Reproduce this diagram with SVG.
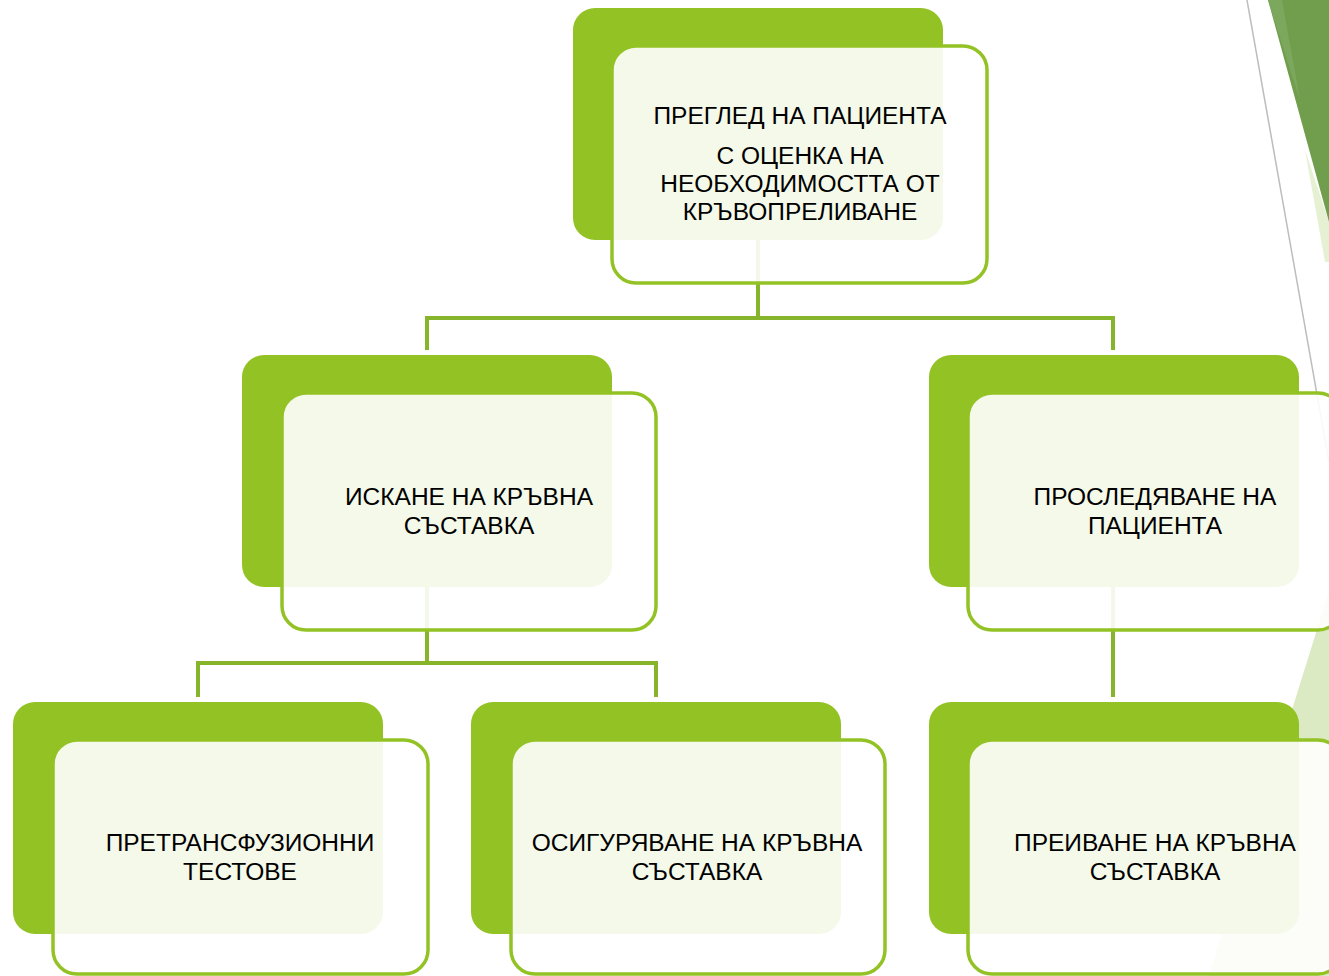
<svg xmlns="http://www.w3.org/2000/svg" width="1329" height="976" viewBox="0 0 1329 976">
<style>
.back{fill:#93C225}
.front{fill:#FFFFFF;fill-opacity:0.9;stroke:#93C225;stroke-width:3.5}
.conn{fill:none;stroke:#86B52B;stroke-width:4}
.t{font-family:"Liberation Sans","DejaVu Sans",sans-serif;font-size:24.5px;fill:#000;text-anchor:middle}
</style>
<rect width="1329" height="976" fill="#FFFFFF"/>
<g id="decor">
<polygon points="1329,591 1329,976 1209,976" fill="#DCEAC4"/>
<polygon points="1305,150 1329,222 1329,262 1325,262" fill="#E6F0D3"/>
<polygon points="1268,0 1329,0 1329,222" fill="#719E4C"/>
<polygon points="1268,0 1282,0 1300,100" fill="#7CA85E"/>
<line x1="1247" y1="0" x2="1329" y2="462" stroke="#BDBDBD" stroke-width="1.5"/>
</g>
<g id="connectors">
<path class="conn" d="M758,240 V318 M427,350 V318 H1113 V350"/>
<path class="conn" d="M427,587 V663 M198,697 V663 H656 V697"/>
<path class="conn" d="M1113,587 V697"/>
</g>
<g id="n1">
<rect class="back" x="573" y="8" width="370" height="232" rx="22"/>
<rect class="front" x="612" y="46" width="375" height="237" rx="24"/>
<text class="t" x="800" y="124">ПРЕГЛЕД НА ПАЦИЕНТА</text>
<text class="t" x="800" y="164">С ОЦЕНКА НА</text>
<text class="t" x="800" y="192">НЕОБХОДИМОСТТА ОТ</text>
<text class="t" x="800" y="220">КРЪВОПРЕЛИВАНЕ</text>
</g>
<g id="n2">
<rect class="back" x="242" y="355" width="370" height="232" rx="22"/>
<rect class="front" x="282" y="393" width="374" height="237" rx="24"/>
<text class="t" x="469" y="505">ИСКАНЕ НА КРЪВНА</text>
<text class="t" x="469" y="534">СЪСТАВКА</text>
</g>
<g id="n3">
<rect class="back" x="929" y="355" width="370" height="232" rx="22"/>
<rect class="front" x="968" y="393" width="374" height="237" rx="24"/>
<text class="t" x="1155" y="505">ПРОСЛЕДЯВАНЕ НА</text>
<text class="t" x="1155" y="534">ПАЦИЕНТА</text>
</g>
<g id="n4">
<rect class="back" x="13" y="702" width="370" height="232" rx="22"/>
<rect class="front" x="53" y="740" width="375" height="234" rx="24"/>
<text class="t" x="240" y="851">ПРЕТРАНСФУЗИОННИ</text>
<text class="t" x="240" y="880">ТЕСТОВЕ</text>
</g>
<g id="n5">
<rect class="back" x="471" y="702" width="370" height="232" rx="22"/>
<rect class="front" x="511" y="740" width="374" height="234" rx="24"/>
<text class="t" x="697" y="851">ОСИГУРЯВАНЕ НА КРЪВНА</text>
<text class="t" x="697" y="880">СЪСТАВКА</text>
</g>
<g id="n6">
<rect class="back" x="929" y="702" width="370" height="232" rx="22"/>
<rect class="front" x="968" y="740" width="374" height="234" rx="24"/>
<text class="t" x="1155" y="851">ПРЕИВАНЕ НА КРЪВНА</text>
<text class="t" x="1155" y="880">СЪСТАВКА</text>
</g>
</svg>
